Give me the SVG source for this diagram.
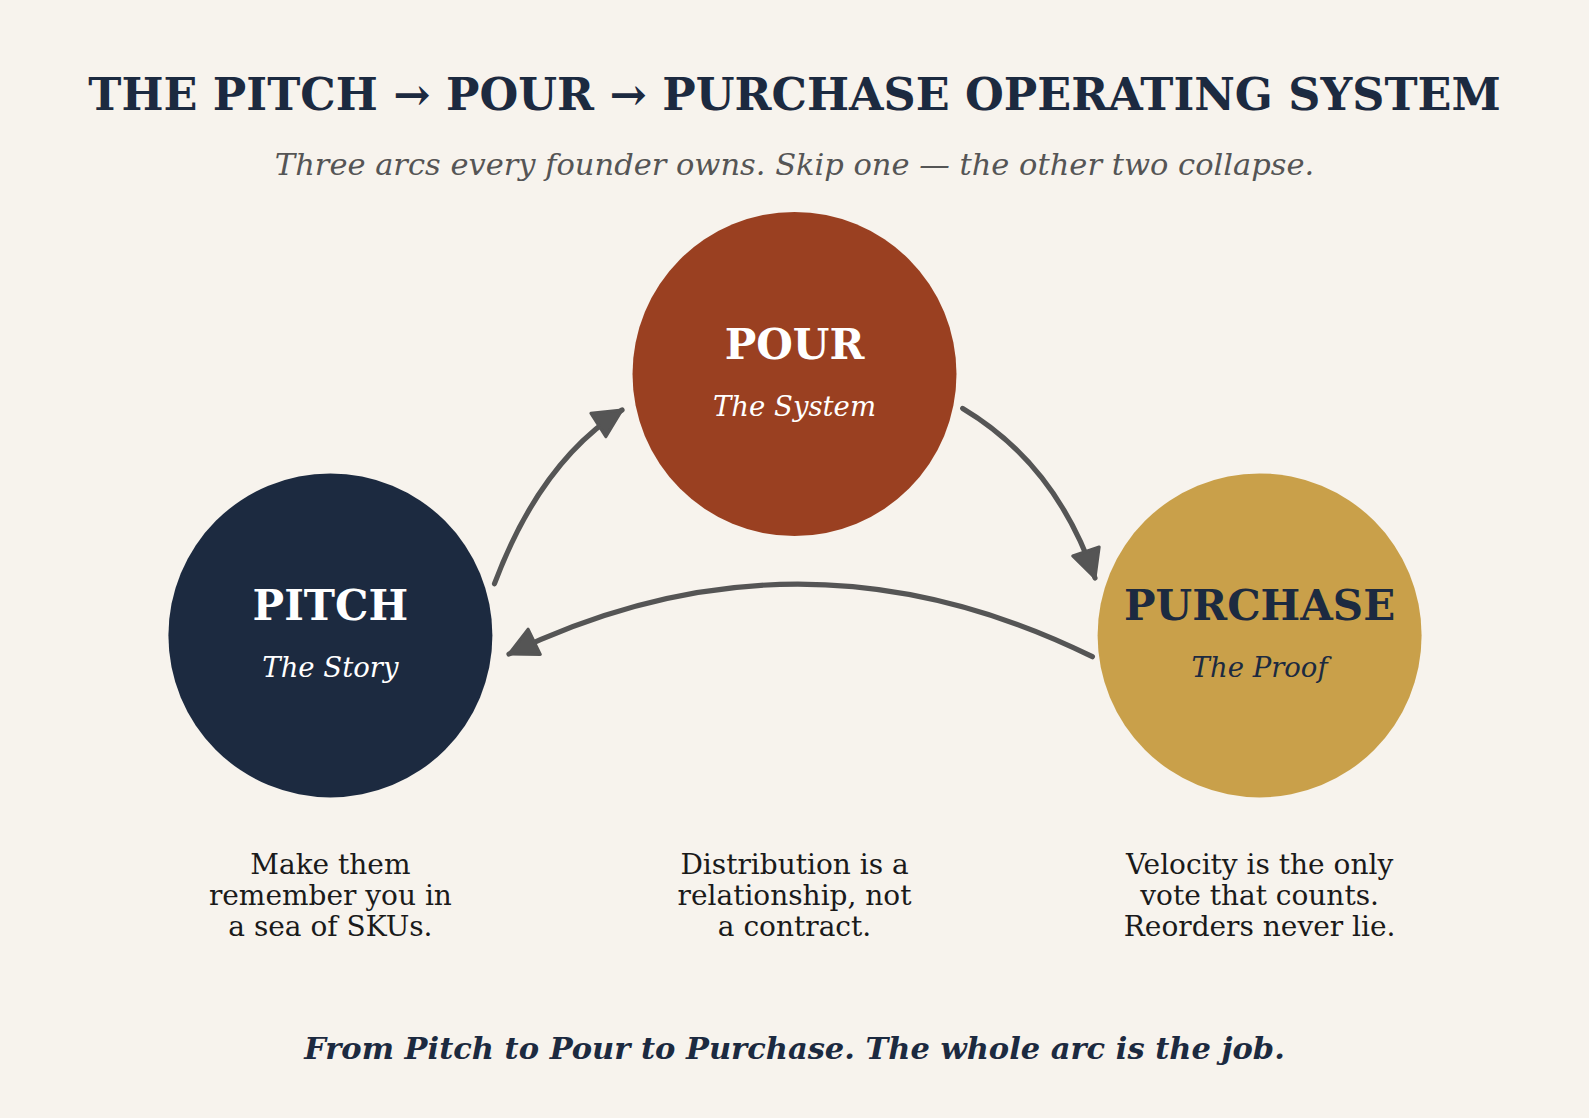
<svg xmlns="http://www.w3.org/2000/svg" width="1589" height="1118" viewBox="0 0 1589 1118">
<style>
text{font-family:"DejaVu Serif","Liberation Serif",serif;text-anchor:middle}
.title{font-size:44.5px;font-weight:bold;fill:#1c2a40}
.sub{font-size:30.5px;font-style:italic;fill:#555555}
.name{font-size:42px;font-weight:bold}
.tag{font-size:27.5px;font-style:italic}
.desc{font-size:28px;fill:#1a1a1a}
.foot{font-size:30.5px;font-weight:bold;font-style:italic;fill:#1c2a40}
.conn{fill:none;stroke:#555555;stroke-width:5.2;stroke-linecap:round}
</style>
<defs>
<marker id="ah" markerUnits="userSpaceOnUse" markerWidth="36" markerHeight="34" refX="28" refY="14" orient="auto" viewBox="-3 -3 35 34">
<path d="M0,0 L28,14 L0,28 z" fill="#555555" stroke="#555555" stroke-width="3" stroke-linejoin="round"/>
</marker>
</defs>
<rect width="1589" height="1118" fill="#f7f3ed"/>
<text class="title" x="794.5" y="110">THE PITCH → POUR → PURCHASE OPERATING SYSTEM</text>
<text class="sub" x="794.5" y="175">Three arcs every founder owns. Skip one — the other two collapse.</text>
<g id="connectors">
<path class="conn" d="M494.5,583.7 Q540,462 622,410" marker-end="url(#ah)"/>
<path class="conn" d="M962.7,408.4 Q1056,464 1095,578" marker-end="url(#ah)"/>
<path class="conn" d="M1092.4,656.7 Q800.6,513 509,654" marker-end="url(#ah)"/>
</g>
<g id="pitch">
<circle cx="330.4" cy="635.4" r="162" fill="#1c2a40"/>
<text class="name" x="330.4" y="620" fill="#ffffff">PITCH</text>
<text class="tag" x="330.4" y="677" fill="#ffffff">The Story</text>
<text class="desc" x="330.4" y="873.5">Make them</text>
<text class="desc" x="330.4" y="905">remember you in</text>
<text class="desc" x="330.4" y="936">a sea of SKUs.</text>
</g>
<g id="pour">
<circle cx="794.5" cy="374" r="162" fill="#9a4021"/>
<text class="name" x="794.5" y="359" fill="#ffffff">POUR</text>
<text class="tag" x="794.5" y="415.5" fill="#ffffff">The System</text>
<text class="desc" x="794.5" y="873.5">Distribution is a</text>
<text class="desc" x="794.5" y="905">relationship, not</text>
<text class="desc" x="794.5" y="936">a contract.</text>
</g>
<g id="purchase">
<circle cx="1259.6" cy="635.4" r="162" fill="#c9a04a"/>
<text class="name" x="1259.6" y="620" fill="#1c2a40">PURCHASE</text>
<text class="tag" x="1259.6" y="677" fill="#1c2a40">The Proof</text>
<text class="desc" x="1259.6" y="873.5">Velocity is the only</text>
<text class="desc" x="1259.6" y="905">vote that counts.</text>
<text class="desc" x="1259.6" y="936">Reorders never lie.</text>
</g>
<text class="foot" x="794.5" y="1059">From Pitch to Pour to Purchase. The whole arc is the job.</text>
</svg>
